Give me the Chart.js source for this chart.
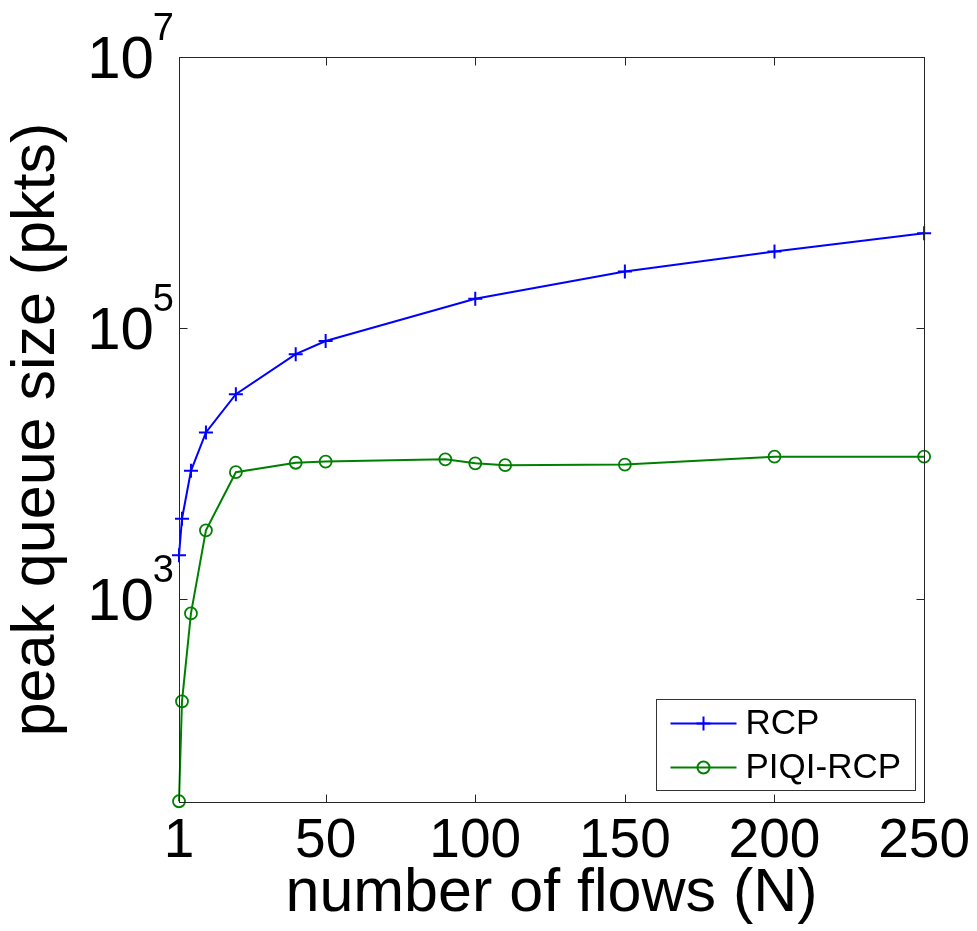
<!DOCTYPE html>
<html>
<head>
<meta charset="utf-8">
<script src="https://cdn.jsdelivr.net/npm/chart.js@4/dist/chart.umd.min.js"></script>
<style>
  html, body { margin: 0; padding: 0; background: #fff; }
  #wrap { width: 977px; height: 931px; }
</style>
</head>
<body>
<div id="wrap"><canvas id="myChart"></canvas></div>
<script>
const flowsRcp = [1, 2, 5, 10, 20, 40, 50, 100, 150, 200, 250];
const queueRcp = [2100, 3900, 8800, 16900, 32400, 64000, 80000, 164000, 261000, 366000, 500000];

const flowsPiqi = [1, 2, 5, 10, 20, 40, 50, 90, 100, 110, 150, 200, 250];
const queuePiqi = [32, 175, 780, 3200, 8600, 10100, 10300, 10700, 10000, 9700, 9800, 11200, 11200];

const xTicks = [1, 50, 100, 150, 200, 250];
const yTicks = [1e3, 1e5, 1e7];
const yTickExp = ['3', '5', '7'];

const fontFamily = "'Liberation Sans', Arial, sans-serif";

// box, inward tick marks and 10^n labels like the matlab figure
const frame = {
    id: 'frame',
    afterDatasetsDraw(chart) {
        const { ctx, chartArea: a, scales } = chart;
        const l = Math.round(a.left) + 0.5, r = Math.round(a.right) + 0.5;
        const t = Math.round(a.top) + 0.5, b = Math.round(a.bottom) + 0.5;
        ctx.save();
        ctx.strokeStyle = '#262626';
        ctx.lineWidth = 1;
        ctx.strokeRect(l, t, r - l, b - t);
        ctx.beginPath();
        scales.x.ticks.forEach(tk => {
            const px = Math.round(scales.x.getPixelForValue(tk.value)) + 0.5;
            ctx.moveTo(px, b); ctx.lineTo(px, b - 8);
            ctx.moveTo(px, t); ctx.lineTo(px, t + 8);
        });
        scales.y.ticks.forEach(tk => {
            const py = Math.round(scales.y.getPixelForValue(tk.value)) + 0.5;
            ctx.moveTo(l, py); ctx.lineTo(l + 8, py);
            ctx.moveTo(r, py); ctx.lineTo(r - 8, py);
        });
        ctx.stroke();

        ctx.fillStyle = '#000';
        ctx.textBaseline = 'alphabetic';
        scales.y.ticks.forEach(tk => {
            const i = yTicks.indexOf(tk.value);
            if (i < 0) return;
            const py = scales.y.getPixelForValue(tk.value);
            const xr = a.left - 5;
            ctx.font = '38px ' + fontFamily;
            ctx.textAlign = 'right';
            const ew = ctx.measureText(yTickExp[i]).width;
            ctx.fillText(yTickExp[i], xr, py - 17);
            ctx.font = '60px ' + fontFamily;
            ctx.fillText('10', xr - ew + 1, py + 21);
        });
        ctx.restore();
    },
    afterDraw(chart) {
        // legend in the lower right corner
        const { ctx, chartArea: a } = chart;
        const w = 259, h = 91;
        const x0 = Math.round(a.right - 9 - w) + 0.5, y0 = Math.round(a.bottom - 12 - h) + 0.5;
        ctx.save();
        ctx.fillStyle = '#fff';
        ctx.fillRect(x0, y0, w, h);
        ctx.strokeStyle = '#333';
        ctx.lineWidth = 1;
        ctx.strokeRect(x0, y0, w, h);
        ctx.font = '35px ' + fontFamily;
        ctx.textBaseline = 'middle';
        ctx.textAlign = 'left';
        chart.data.datasets.forEach((ds, i) => {
            const yy = y0 + 24 + i * 44;
            ctx.strokeStyle = ds.borderColor;
            ctx.lineWidth = 2;
            ctx.beginPath();
            ctx.moveTo(x0 + 14, yy); ctx.lineTo(x0 + 80, yy);
            ctx.stroke();
            const mx = x0 + 47;
            ctx.beginPath();
            if (ds.pointStyle === 'cross') {
                ctx.moveTo(mx - 7, yy); ctx.lineTo(mx + 7, yy);
                ctx.moveTo(mx, yy - 7); ctx.lineTo(mx, yy + 7);
            } else {
                ctx.arc(mx, yy, 6, 0, Math.PI * 2);
            }
            ctx.stroke();
            ctx.fillStyle = '#000';
            ctx.fillText(ds.label, x0 + 89, yy + 1);
        });
        ctx.restore();
    }
};

const data = {
    datasets: [{
        label: 'RCP',
        data: flowsRcp.map((x, i) => ({ x: x, y: queueRcp[i] })),
        borderColor: '#0000ff',
        backgroundColor: '#0000ff',
        borderWidth: 2,
        pointStyle: 'cross',
        pointRadius: 7,
        pointHoverRadius: 7,
        pointBorderWidth: 2,
        clip: false
    }, {
        label: 'PIQI-RCP',
        data: flowsPiqi.map((x, i) => ({ x: x, y: queuePiqi[i] })),
        borderColor: '#008000',
        backgroundColor: 'rgba(0,0,0,0)',
        borderWidth: 2,
        pointStyle: 'circle',
        pointRadius: 6,
        pointHoverRadius: 6,
        pointBorderWidth: 1.8,
        clip: false
    }]
};

const config = {
    type: 'line',
    data: data,
    options: {
        responsive: true,
        maintainAspectRatio: false,
        animation: false,
        layout: { padding: { top: 57, right: 49, left: 0, bottom: 0 } },
        plugins: {
            legend: { display: false },
            tooltip: { enabled: false }
        },
        scales: {
            x: {
                type: 'linear',
                min: 1,
                max: 250,
                afterBuildTicks: s => { s.ticks = xTicks.map(v => ({ value: v })); },
                afterFit: s => { s.height = 129; },
                grid: { display: false, drawTicks: false },
                border: { display: false },
                ticks: {
                    color: '#000',
                    font: { family: fontFamily, size: 55 },
                    padding: 7,
                    autoSkip: false,
                    maxRotation: 0,
                    callback: v => String(v)
                },
                title: {
                    display: true,
                    text: 'number of flows (N)',
                    color: '#000',
                    font: { family: fontFamily, size: 61 },
                    padding: 0
                }
            },
            y: {
                type: 'logarithmic',
                min: 31.6,
                max: 1e7,
                afterBuildTicks: s => { s.ticks = yTicks.map(v => ({ value: v })); },
                afterFit: s => { s.width = 179; },
                grid: { display: false, drawTicks: false },
                border: { display: false },
                ticks: { display: false },
                title: {
                    display: true,
                    text: 'peak queue size (pkts)',
                    color: '#000',
                    font: { family: fontFamily, size: 61 },
                    padding: { top: 1, bottom: 0 }
                }
            }
        }
    },
    plugins: [frame]
};

const myChart = new Chart(document.getElementById('myChart'), config);
</script>
</body>
</html>
